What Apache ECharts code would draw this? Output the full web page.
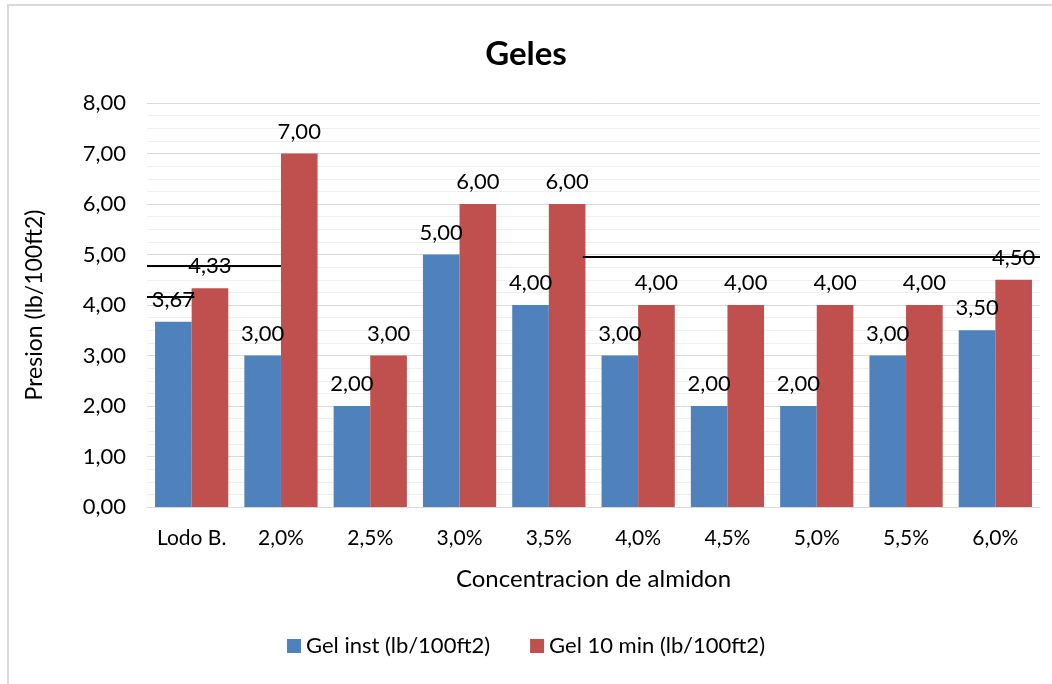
<!DOCTYPE html>
<html lang="es">
<head>
    <meta charset="utf-8">
    <title>Geles</title>
    <script src="https://cdn.jsdelivr.net/npm/echarts@6/dist/echarts.min.js"></script>
    <style>
        html, body { margin: 0; padding: 0; background: #fff; }
        #chart { width: 1052px; height: 684px; }
    </style>
</head>
<body>
<div id="chart"></div>
<script>
    // datos
    let categorias = ['Lodo B.', '2,0%', '2,5%', '3,0%', '3,5%', '4,0%', '4,5%', '5,0%', '5,5%', '6,0%'];
    let gelInst = [3.67, 3.00, 2.00, 5.00, 4.00, 3.00, 2.00, 2.00, 3.00, 3.50];
    let gel10min = [4.33, 7.00, 3.00, 6.00, 6.00, 4.00, 4.00, 4.00, 4.00, 4.50];
    let yTicks = [0, 1, 2, 3, 4, 5, 6, 7, 8];
    // lineas negras sueltas sobre el grafico (posicion en categorias, valor)
    let trazo1 = [[0, 4.77], [1.5, 4.77]];
    let trazo2 = [[0, 4.16], [0.53, 4.16]];
    let trazo3 = [[4.88, 4.95], [10, 4.95]];

    const fuente = 'Lato, "Open Sans", sans-serif';
    let myChart = echarts.init(document.getElementById('chart'));

    function fmt(v) {
        return v.toFixed(2).replace('.', ',');
    }

    let etiqueta = {
        show: true,
        position: 'top',
        distance: 11,
        color: '#000',
        fontSize: 22,
        fontFamily: fuente,
        formatter: function (p) { return fmt(p.value); }
    };

    function trazo(data) {
        return {
            type: 'line',
            xAxisIndex: 1,
            data: data,
            symbol: 'none',
            silent: true,
            z: 5,
            lineStyle: {color: '#000', width: 2}
        };
    }

    let option = {
        animation: false,
        backgroundColor: '#fff',
        graphic: [{
            type: 'rect',
            shape: {x: 8, y: 5, width: 1060, height: 700},
            style: {fill: 'none', stroke: '#d9d9d9', lineWidth: 2}
        }],
        title: {
            text: 'Geles',
            left: 'center',
            top: 33,
            textStyle: {fontSize: 33, fontWeight: 'bold', fontFamily: fuente, color: '#000'}
        },
        legend: {
            data: ['Gel inst (lb/100ft2)', 'Gel 10 min (lb/100ft2)'],
            bottom: 22,
            left: 'center',
            itemWidth: 14,
            itemHeight: 14,
            itemGap: 40,
            icon: 'rect',
            textStyle: {fontSize: 22, fontFamily: fuente, color: '#000'}
        },
        grid: {left: 147, right: 12, top: 103, bottom: 177},
        xAxis: [
            {
                type: 'category',
                data: categorias,
                name: 'Concentracion de almidon',
                nameLocation: 'middle',
                nameGap: 60,
                nameTextStyle: {fontSize: 24, fontFamily: fuente, color: '#000'},
                axisLine: {lineStyle: {color: '#d9d9d9'}},
                axisTick: {show: false},
                axisLabel: {interval: 0, fontSize: 21, fontFamily: fuente, color: '#000', margin: 21}
            },
            {
                type: 'value',
                min: 0,
                max: 10,
                show: false
            }
        ],
        yAxis: {
            type: 'value',
            min: yTicks[0],
            max: yTicks[yTicks.length - 1],
            interval: 1,
            name: 'Presion (lb/100ft2)',
            nameLocation: 'middle',
            nameGap: 101,
            nameTextStyle: {fontSize: 23, fontFamily: fuente, color: '#000'},
            axisLine: {show: false},
            axisTick: {show: false},
            axisLabel: {fontSize: 22, fontFamily: fuente, color: '#000', margin: 21,
                formatter: function (v) { return fmt(v); }},
            splitLine: {lineStyle: {color: '#d9d9d9', width: 1}},
            minorTick: {show: false, splitNumber: 4},
            minorSplitLine: {show: true, lineStyle: {color: '#efefef', width: 1}}
        },
        series: [
            {
                name: 'Gel inst (lb/100ft2)',
                type: 'bar',
                data: gelInst,
                barGap: '0%',
                barCategoryGap: '18%',
                itemStyle: {color: '#4F81BD'},
                label: etiqueta
            },
            {
                name: 'Gel 10 min (lb/100ft2)',
                type: 'bar',
                data: gel10min,
                itemStyle: {color: '#C0504D'},
                label: etiqueta
            },
            trazo(trazo1),
            trazo(trazo2),
            trazo(trazo3)
        ]
    };
    myChart.setOption(option);
</script>
</body>
</html>
